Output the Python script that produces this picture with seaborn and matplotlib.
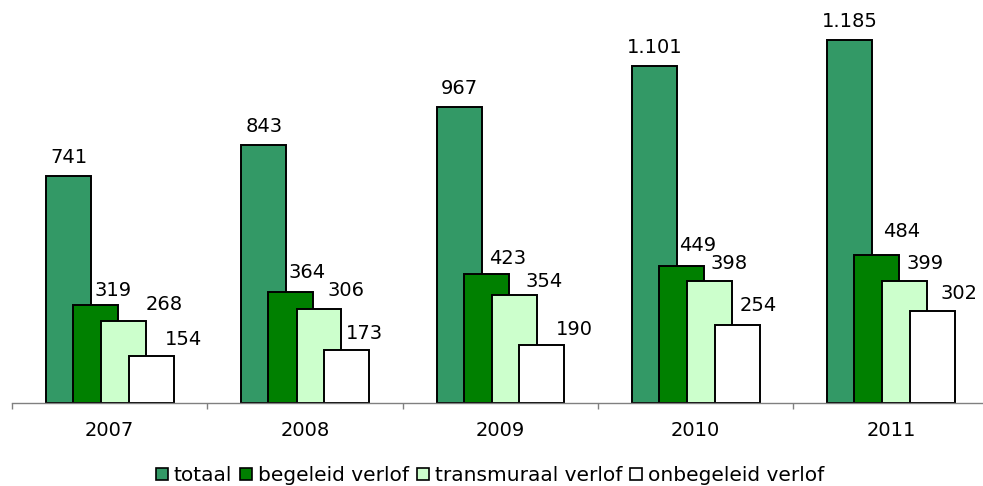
import numpy as np
import pandas as pd
import matplotlib
matplotlib.use("Agg")
import matplotlib.pyplot as plt
from matplotlib.patches import Patch
import seaborn as sns

# ---- data ----
years = [2007, 2008, 2009, 2010, 2011]
series_names = ["totaal", "begeleid verlof", "transmuraal verlof", "onbegeleid verlof"]
totaal = [741, 843, 967, 1101, 1185]
begeleid = [319, 364, 423, 449, 484]
transmuraal = [268, 306, 354, 398, 399]
onbegeleid = [154, 173, 190, 254, 302]
series_values = [totaal, begeleid, transmuraal, onbegeleid]

# ---- style ----
colors = ["#339966", "#008000", "#CCFFCC", "#FFFFFF"]
offsets = [-0.21, -0.072, 0.072, 0.213]   # overlap positions within a year
bar_width = 0.23
# label nudges (pixels) as in the original
label_dx = [[0, 0, 0, 0, 0],
            [17, 16, 21, 16, 25],
            [40, 27, 30, 19, 20],
            [32, 18, 33, 21, 27]]
label_dy = [[13, 13, 13, 13, 13],
            [9, 14, 10, 15, 18],
            [11, 13, 8, 12, 12],
            [11, 11, 10, 14, 12]]
FS = 14

sns.set_theme(style="white")
plt.rcParams["font.family"] = ["DejaVu Sans"]
plt.rcParams["text.color"] = "black"

W, H = 983, 486
fig = plt.figure(figsize=(W / 100, H / 100), dpi=100)
ax_left, ax_right, ax_bottom = 12, 988.5, 403
ax = fig.add_axes([ax_left / W, (H - ax_bottom) / H, (ax_right - ax_left) / W, ax_bottom / H])

px_per_unit = 0.306
ymax = ax_bottom / px_per_unit

for name, vals, col, off in zip(series_names, series_values, colors, offsets):
    df = pd.DataFrame({"x": np.array(years) + off, "y": vals})
    sns.barplot(data=df, x="x", y="y", native_scale=True, width=bar_width,
                color=col, edgecolor="black", linewidth=1.4, errorbar=None,
                saturation=1, ax=ax)

pt = 0.72  # points per pixel at 100 dpi
for s, (vals, off) in enumerate(zip(series_values, offsets)):
    for j, (yr, v) in enumerate(zip(years, vals)):
        txt = f"{v:,}".replace(",", ".")
        ax.annotate(txt, xy=(yr + off, v), xytext=(label_dx[s][j] * pt, label_dy[s][j] * pt),
                    textcoords="offset points", ha="center", va="baseline",
                    fontsize=FS, color="black")

ax.set_xlim(2006.5, 2011.5)
ax.set_ylim(0, ymax)
ax.set_xlabel("")
ax.set_ylabel("")
for sp in ["top", "right", "left"]:
    ax.spines[sp].set_visible(False)
ax.spines["bottom"].set_color("#808080")
ax.spines["bottom"].set_linewidth(1.0)
ax.set_yticks([])

ax.set_xticks([y - 0.5 for y in years] + [years[-1] + 0.5])
ax.set_xticklabels([])
ax.tick_params(axis="x", which="major", direction="out", length=6 * pt, width=1.0,
               color="#808080", bottom=True)
ax.set_xticks(years, minor=True)
ax.set_xticklabels([str(y) for y in years], minor=True, fontsize=FS, color="black")
ax.tick_params(axis="x", which="minor", length=0, pad=13)

handles = [Patch(facecolor=c, edgecolor="black", linewidth=1.2) for c in colors]
leg = fig.legend(handles, series_names, loc="lower center", bbox_to_anchor=(490 / W, 1 / H),
                 ncol=4, frameon=False, fontsize=14.5, handlelength=0.6, handleheight=0.6,
                 handletextpad=0.3, columnspacing=0.38, borderaxespad=0, borderpad=0)
for t in leg.get_texts():
    t.set_color("black")

fig.savefig("out.png", dpi=100)
